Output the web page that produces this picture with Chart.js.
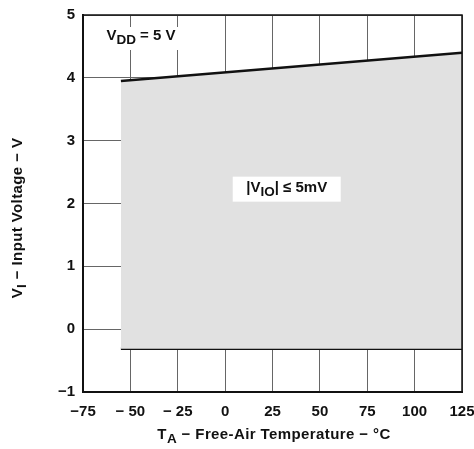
<!DOCTYPE html>
<html>

<head>
  <title>Input Voltage vs Free-Air Temperature</title>
  <script src="https://cdn.jsdelivr.net/npm/chart.js"></script>
  <style>
    body { margin: 0; background: #fff; }
    #wrap { width: 474px; height: 449px; }
  </style>
</head>

<body>
  <div id="wrap"><canvas id="myChart" width="474" height="449"></canvas></div>
  <script>
    // values
    var temps = [-55, 125];
    var upperV = [3.95, 4.4];
    var lowerV = [-0.31, -0.31];
    var xTickLabels = ['\u221275', '\u2212 50', '\u2212 25', '0', '25', '50', '75', '100', '125'];
    var yTickLabels = ['\u22121', '0', '1', '2', '3', '4', '5'];

    var FONT = "'Liberation Sans', Arial, Helvetica, sans-serif";

    function richText(ctx, parts, cx, cy, size) {
      var w = 0;
      parts.forEach(function (p) {
        ctx.font = 'bold ' + (p.sub ? size * 0.9 : size) + 'px ' + FONT;
        p.w = ctx.measureText(p.t).width;
        w += p.w;
      });
      var x = cx - w / 2;
      ctx.textAlign = 'left';
      ctx.textBaseline = 'middle';
      parts.forEach(function (p) {
        ctx.font = 'bold ' + (p.sub ? size * 0.9 : size) + 'px ' + FONT;
        ctx.fillText(p.t, x, cy + (p.sub ? size * 0.3 : 0));
        x += p.w;
      });
      return w;
    }

    var decor = {
      id: 'decor',
      afterDatasetsDraw: function (chart) {
        var ctx = chart.ctx, a = chart.chartArea;
        var xs = chart.scales.x, ys = chart.scales.y;
        ctx.save();
        // frame top / right
        ctx.strokeStyle = '#111';
        ctx.lineWidth = 1.5;
        ctx.beginPath();
        ctx.moveTo(a.left, a.top);
        ctx.lineTo(a.right, a.top);
        ctx.lineTo(a.right, a.bottom);
        ctx.stroke();

        // VDD label
        ctx.fillStyle = '#fff';
        ctx.fillRect(98, 27, 86, 23);
        ctx.fillStyle = '#111';
        richText(ctx, [{ t: 'V' }, { t: 'DD', sub: true }, { t: ' = 5 V' }], 141, 36, 15);

        // VIO label
        var cx = xs.getPixelForValue(32.5), cy = ys.getPixelForValue(2.22);
        ctx.fillStyle = '#fff';
        ctx.fillRect(cx - 54, cy - 13, 108, 25);
        ctx.fillStyle = '#111';
        richText(ctx, [{ t: '|V' }, { t: 'IO', sub: true }, { t: '| \u2264 5mV' }], cx, cy - 2, 15);

        // axis titles
        ctx.letterSpacing = '0.4px';
        richText(ctx, [{ t: 'T' }, { t: 'A', sub: true }, { t: ' \u2212 Free-Air Temperature \u2212 \u00B0C' }], 274, 435, 15);

        ctx.translate(18, 218);
        ctx.rotate(-Math.PI / 2);
        richText(ctx, [{ t: 'V' }, { t: 'I', sub: true }, { t: ' \u2212 Input Voltage \u2212 V' }], 0, 0, 15);
        ctx.restore();
      }
    };

    var ctx = document.getElementById('myChart').getContext('2d');
    var myChart = new Chart(ctx, {
      type: 'scatter',
      data: {
        datasets: [{
          label: 'upper',
          data: temps.map(function (t, i) { return { x: t, y: upperV[i] }; }),
          showLine: true,
          borderColor: '#111',
          borderWidth: 2.5,
          pointRadius: 0,
          fill: '+1',
          backgroundColor: '#e1e1e1'
        }, {
          label: 'lower',
          data: temps.map(function (t, i) { return { x: t, y: lowerV[i] }; }),
          showLine: true,
          borderColor: '#111',
          borderWidth: 2.5,
          pointRadius: 0,
          fill: false
        }]
      },
      options: {
        responsive: false,
        animation: false,
        layout: { padding: { top: 15, right: 12, left: 0, bottom: 0 } },
        plugins: { legend: { display: false }, tooltip: { enabled: false } },
        scales: {
          x: {
            type: 'linear',
            min: -75, max: 125,
            afterFit: function (s) { s.height = 57; s.paddingRight = 0; s.paddingLeft = 0; },
            grid: { color: '#666', lineWidth: 1, drawTicks: false },
            border: { color: '#111', width: 2 },
            ticks: {
              stepSize: 25, padding: 11, color: '#111',
              font: { family: FONT, size: 15, weight: 'bold' },
              maxRotation: 0,
              callback: function (v, i) { return xTickLabels[i]; }
            }
          },
          y: {
            min: -1, max: 5,
            afterFit: function (s) { s.width = 83; s.paddingTop = 0; s.paddingBottom = 0; },
            grid: { color: '#666', lineWidth: 1, drawTicks: false },
            border: { color: '#111', width: 2 },
            ticks: {
              stepSize: 1, padding: 8, color: '#111',
              font: { family: FONT, size: 15, weight: 'bold' },
              callback: function (v, i) { return yTickLabels[i]; }
            }
          }
        }
      },
      plugins: [decor]
    });
  </script>
</body>

</html>
